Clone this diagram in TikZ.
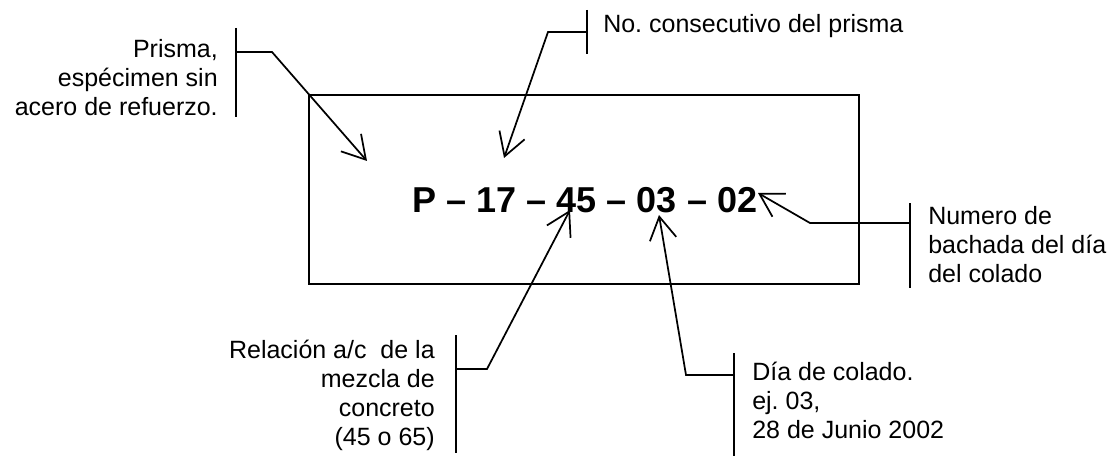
\documentclass[tikz,border=0pt]{standalone}
\usepackage{fontspec}
\setmainfont{Liberation Sans}
\frenchspacing
\usetikzlibrary{arrows.meta, positioning}
\tikzset{
  lbl/.style={inner sep=0pt, font=\fontsize{18.75}{21.75}\selectfont},
  callout/.style={line width=1.3pt, -{Straight Barb[length=17pt,width=20pt,line width=1.3pt]}},
}
\begin{document}
\begin{tikzpicture}[x=0.75pt, y=-0.75pt]
    \useasboundingbox (0,0) rectangle (1113,456);
    % specimen and its code
    \draw[line width=1.3pt] (309,95) rectangle (859,284);
    \node[inner sep=0pt, font=\fontsize{27}{32}\selectfont\bfseries] (code) at (585,200) {P -- 17 -- 45 -- 03 -- 02};
    % texts
    \node[lbl, align=right, anchor=east] (prisma) at (218,78) {Prisma,\\espécimen sin\\acero de refuerzo.};
    \node[lbl, anchor=base west] (consec) at (603,33) {No. consecutivo del prisma};
    \node[lbl, align=left, anchor=west] (bachada) at (928,245) {Numero de\\bachada del día\\del colado};
    \node[lbl, align=right, anchor=east] (relac) at (435,395) {Relación a/c~ de la\\mezcla de\\concreto\\(45 o 65)};
    \node[lbl, align=left, anchor=west] (dia) at (752,400) {Día de colado.\\ej. 03,\\28 de Junio 2002};
    % bars
    \coordinate (P1) at (236,28);  \coordinate (P2) at (236,117);
    \coordinate (C1) at (587,10);  \coordinate (C2) at (587,54);
    \coordinate (B1) at (910,203); \coordinate (B2) at (910,288);
    \coordinate (R1) at (456,335); \coordinate (R2) at (456,453);
    \coordinate (D1) at (734,353); \coordinate (D2) at (734,456);
    \foreach \a/\b in {P1/P2, C1/C2, B1/B2, R1/R2, D1/D2}
        \draw[line width=1.3pt] (\a) -- (\b);
    % junctions, bends and tips
    \coordinate (Pj) at (236,52);  \coordinate (Pb) at (272,52);  \coordinate (Pt) at (367,161);
    \coordinate (Cj) at (587,32);  \coordinate (Cb) at (548,32);  \coordinate (Ct) at (504,158);
    \coordinate (Bj) at (910,223); \coordinate (Bb) at (810,223); \coordinate (Bt) at (758,193);
    \coordinate (Rj) at (456,369); \coordinate (Rb) at (487,369); \coordinate (Rt) at (570,210);
    \coordinate (Dj) at (734,375); \coordinate (Db) at (686,375); \coordinate (Dt) at (659,215);
    \foreach \p in {P,C,B,R,D}
        \draw[callout] (\p j) -- (\p b) -- (\p t);
\end{tikzpicture}
\end{document}
